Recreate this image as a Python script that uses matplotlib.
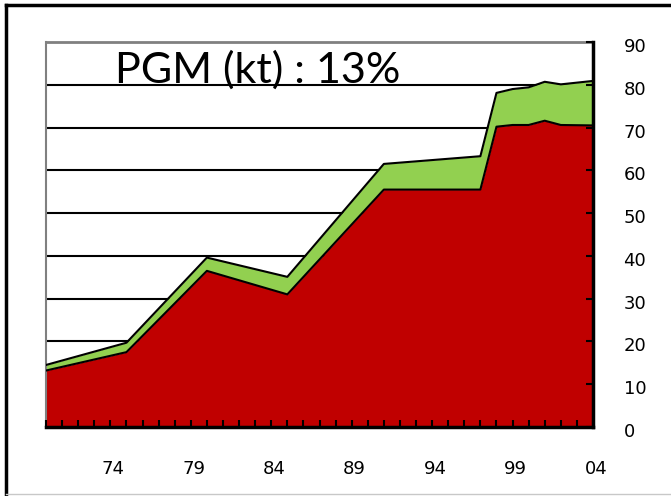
import matplotlib.pyplot as plt
from matplotlib.lines import Line2D
from matplotlib.transforms import ScaledTranslation

# vertex years
years = [1970, 1975, 1980, 1985, 1991, 1997, 1998, 1999, 2000, 2001, 2002, 2004]
total = [14.5, 19.7, 39.6, 35.1, 61.5, 63.3, 78.1, 79.0, 79.4, 80.7, 80.1, 80.9]
lower = [13.2, 17.5, 36.5, 31.0, 55.5, 55.5, 70.2, 70.6, 70.6, 71.6, 70.6, 70.5]

label_years = [1974, 1979, 1984, 1989, 1994, 1999, 2004]
label_text = ['74', '79', '84', '89', '94', '99', '04']
y_ticks = list(range(0, 91, 10))
title = 'PGM (kt) : 13%'

W, H = 671, 496
fig = plt.figure(figsize=(W / 100, H / 100), dpi=100)

# outer frame
fig.add_artist(Line2D([6 / W, 6 / W], [2 / H, 1 - 5 / H], color='black', lw=2.5))
fig.add_artist(Line2D([6 / W, 1], [1 - 5 / H, 1 - 5 / H], color='black', lw=2.5))
fig.add_artist(Line2D([6 / W, 1], [2 / H, 2 / H], color='#c8c8c8', lw=1))

left, right, top, bottom = 46, 593, 42, 427
ax = fig.add_axes([left / W, 1 - bottom / H, (right - left) / W, (bottom - top) / H])
ax.set_axisbelow(False)

for y in y_ticks[1:-1]:
    ax.axhline(y, color='black', lw=1.5, zorder=1)

ax.fill_between(years, lower, total, color='#92D050', lw=0, zorder=2)
ax.fill_between(years, 0, lower, color='#C00000', lw=0, zorder=2)
ax.plot(years, total, color='black', lw=1.5, zorder=3)
ax.plot(years, lower, color='black', lw=1.5, zorder=3)

ax.set_xlim(1970, 2004)
ax.set_ylim(0, 90)

ax.spines['left'].set_color('#808080')
ax.spines['top'].set_color('#808080')
ax.spines['left'].set_linewidth(1.5)
ax.spines['top'].set_linewidth(2)
ax.spines['right'].set_linewidth(2.5)
ax.spines['bottom'].set_linewidth(2.5)
for s in ('right', 'bottom'):
    ax.spines[s].set_zorder(5)

lab_font = 'DejaVu Sans'
ax.yaxis.tick_right()
ax.set_yticks(y_ticks)
ax.set_yticklabels([str(v) for v in y_ticks], family=lab_font, fontsize=13, ha='left')
ax.tick_params(axis='y', direction='in', length=5, width=1.5, pad=22)

ax.set_xticks(range(1970, 2005), minor=True)
ax.set_xticks(label_years)
ax.set_xticklabels(label_text, family=lab_font, fontsize=13)
ax.tick_params(axis='x', which='both', direction='in', length=5, width=1.5, pad=24)

shift_y = ScaledTranslation(0, -0.03, fig.dpi_scale_trans)
for lbl in ax.get_yticklabels():
    lbl.set_transform(lbl.get_transform() + shift_y)
shift_x = ScaledTranslation(0.03, 0, fig.dpi_scale_trans)
for lbl in ax.get_xticklabels():
    lbl.set_transform(lbl.get_transform() + shift_x)

ax.text(1974.3, 80.5, title, fontsize=31, family=['Lato', 'DejaVu Sans'],
        ha='left', va='baseline', zorder=6)

fig.savefig('out.png', dpi=100)
